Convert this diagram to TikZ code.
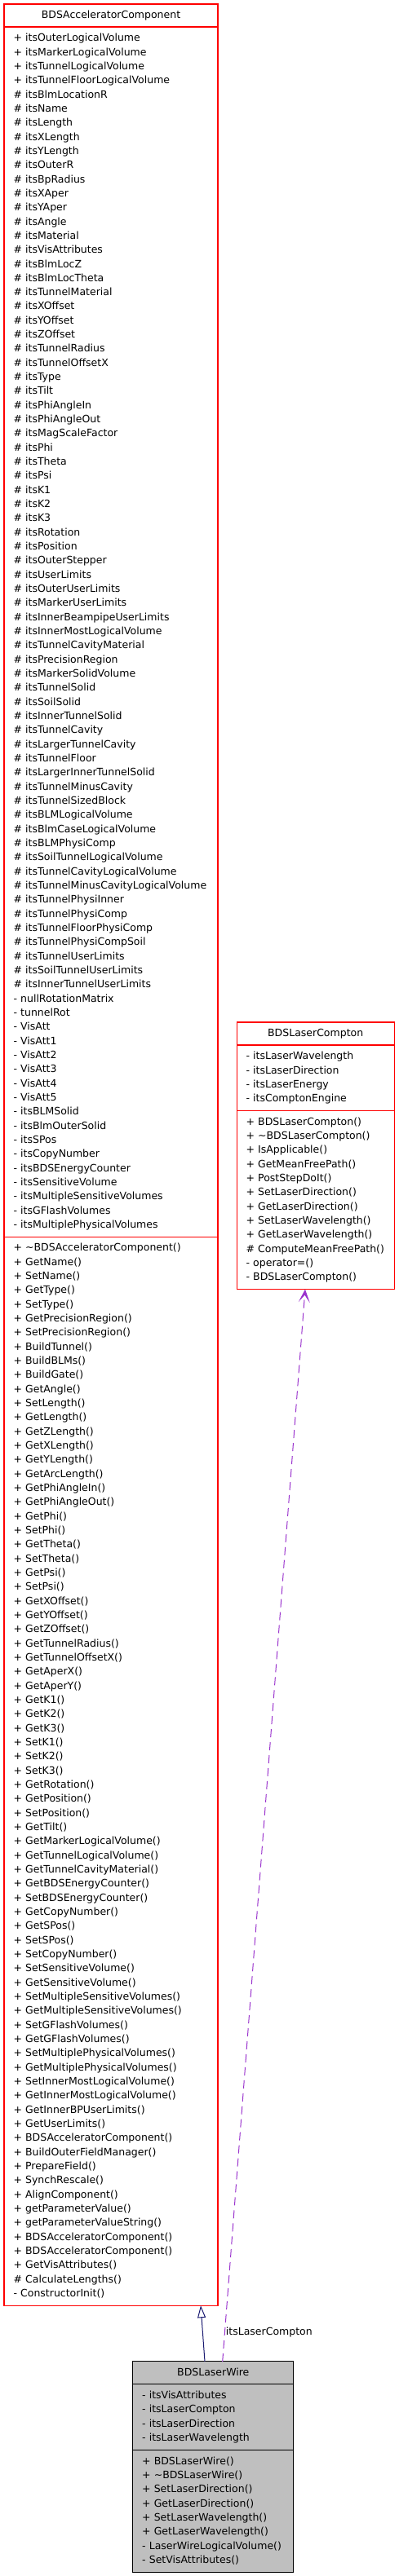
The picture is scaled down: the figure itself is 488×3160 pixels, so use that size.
\documentclass[tikz,border=0pt]{standalone}
\usepackage{fontspec}
\setmainfont{DejaVu Sans}
\usepackage{tikz}
\usetikzlibrary{positioning,arrows.meta}
\definecolor{edgenavy}{HTML}{191970}
\definecolor{edgeorchid}{HTML}{9A32CD}
\definecolor{wiregray}{HTML}{BFBFBF}

\begin{document}
\begin{tikzpicture}[x=1pt,y=1pt,node distance=0pt,
	box/.style={draw=red,line width=1.1pt,fill=white,outer sep=0pt,inner xsep=11.5pt,inner ysep=5.6pt,align=left,
		font=\fontsize{12.5}{17.33}\selectfont,execute at begin node={\hyphenpenalty=10000\exhyphenpenalty=10000\strut},execute at end node=\strut},
	head/.style={box,align=center,inner ysep=0pt,minimum height=28pt},
	gbox/.style={box,draw=black,line width=1pt,fill=wiregray},
	ghead/.style={head,draw=black,line width=1pt,fill=wiregray}]
				\useasboundingbox (0,0) rectangle (488,-3160);
				
				% BDSAcceleratorComponent
				\node[head,text width=239pt] (acc) at (136,-19) {BDSAcceleratorComponent};
				\node[box,text width=239pt] (accAttr) [below=of acc] {+~itsOuterLogicalVolume\\
+~itsMarkerLogicalVolume\\
+~itsTunnelLogicalVolume\\
+~itsTunnelFloorLogicalVolume\\
\#~itsBlmLocationR\\
\#~itsName\\
\#~itsLength\\
\#~itsXLength\\
\#~itsYLength\\
\#~itsOuterR\\
\#~itsBpRadius\\
\#~itsXAper\\
\#~itsYAper\\
\#~itsAngle\\
\#~itsMaterial\\
\#~itsVisAttributes\\
\#~itsBlmLocZ\\
\#~itsBlmLocTheta\\
\#~itsTunnelMaterial\\
\#~itsXOffset\\
\#~itsYOffset\\
\#~itsZOffset\\
\#~itsTunnelRadius\\
\#~itsTunnelOffsetX\\
\#~itsType\\
\#~itsTilt\\
\#~itsPhiAngleIn\\
\#~itsPhiAngleOut\\
\#~itsMagScaleFactor\\
\#~itsPhi\\
\#~itsTheta\\
\#~itsPsi\\
\#~itsK1\\
\#~itsK2\\
\#~itsK3\\
\#~itsRotation\\
\#~itsPosition\\
\#~itsOuterStepper\\
\#~itsUserLimits\\
\#~itsOuterUserLimits\\
\#~itsMarkerUserLimits\\
\#~itsInnerBeampipeUserLimits\\
\#~itsInnerMostLogicalVolume\\
\#~itsTunnelCavityMaterial\\
\#~itsPrecisionRegion\\
\#~itsMarkerSolidVolume\\
\#~itsTunnelSolid\\
\#~itsSoilSolid\\
\#~itsInnerTunnelSolid\\
\#~itsTunnelCavity\\
\#~itsLargerTunnelCavity\\
\#~itsTunnelFloor\\
\#~itsLargerInnerTunnelSolid\\
\#~itsTunnelMinusCavity\\
\#~itsTunnelSizedBlock\\
\#~itsBLMLogicalVolume\\
\#~itsBlmCaseLogicalVolume\\
\#~itsBLMPhysiComp\\
\#~itsSoilTunnelLogicalVolume\\
\#~itsTunnelCavityLogicalVolume\\
\#~itsTunnelMinusCavityLogicalVolume\\
\#~itsTunnelPhysiInner\\
\#~itsTunnelPhysiComp\\
\#~itsTunnelFloorPhysiComp\\
\#~itsTunnelPhysiCompSoil\\
\#~itsTunnelUserLimits\\
\#~itsSoilTunnelUserLimits\\
\#~itsInnerTunnelUserLimits\\
-~nullRotationMatrix\\
-~tunnelRot\\
-~VisAtt\\
-~VisAtt1\\
-~VisAtt2\\
-~VisAtt3\\
-~VisAtt4\\
-~VisAtt5\\
-~itsBLMSolid\\
-~itsBlmOuterSolid\\
-~itsSPos\\
-~itsCopyNumber\\
-~itsBDSEnergyCounter\\
-~itsSensitiveVolume\\
-~itsMultipleSensitiveVolumes\\
-~itsGFlashVolumes\\
-~itsMultiplePhysicalVolumes};
				\node[box,text width=239pt] (accOps) [below=of accAttr] {+~\textasciitilde BDSAcceleratorComponent()\\
+~GetName()\\
+~SetName()\\
+~GetType()\\
+~SetType()\\
+~GetPrecisionRegion()\\
+~SetPrecisionRegion()\\
+~BuildTunnel()\\
+~BuildBLMs()\\
+~BuildGate()\\
+~GetAngle()\\
+~SetLength()\\
+~GetLength()\\
+~GetZLength()\\
+~GetXLength()\\
+~GetYLength()\\
+~GetArcLength()\\
+~GetPhiAngleIn()\\
+~GetPhiAngleOut()\\
+~GetPhi()\\
+~SetPhi()\\
+~GetTheta()\\
+~SetTheta()\\
+~GetPsi()\\
+~SetPsi()\\
+~GetXOffset()\\
+~GetYOffset()\\
+~GetZOffset()\\
+~GetTunnelRadius()\\
+~GetTunnelOffsetX()\\
+~GetAperX()\\
+~GetAperY()\\
+~GetK1()\\
+~GetK2()\\
+~GetK3()\\
+~SetK1()\\
+~SetK2()\\
+~SetK3()\\
+~GetRotation()\\
+~GetPosition()\\
+~SetPosition()\\
+~GetTilt()\\
+~GetMarkerLogicalVolume()\\
+~GetTunnelLogicalVolume()\\
+~GetTunnelCavityMaterial()\\
+~GetBDSEnergyCounter()\\
+~SetBDSEnergyCounter()\\
+~GetCopyNumber()\\
+~GetSPos()\\
+~SetSPos()\\
+~SetCopyNumber()\\
+~SetSensitiveVolume()\\
+~GetSensitiveVolume()\\
+~SetMultipleSensitiveVolumes()\\
+~GetMultipleSensitiveVolumes()\\
+~SetGFlashVolumes()\\
+~GetGFlashVolumes()\\
+~SetMultiplePhysicalVolumes()\\
+~GetMultiplePhysicalVolumes()\\
+~SetInnerMostLogicalVolume()\\
+~GetInnerMostLogicalVolume()\\
+~GetInnerBPUserLimits()\\
+~GetUserLimits()\\
+~BDSAcceleratorComponent()\\
+~BuildOuterFieldManager()\\
+~PrepareField()\\
+~SynchRescale()\\
+~AlignComponent()\\
+~getParameterValue()\\
+~getParameterValueString()\\
+~BDSAcceleratorComponent()\\
+~BDSAcceleratorComponent()\\
+~GetVisAttributes()\\
\#~CalculateLengths()\\
-~ConstructorInit()};
				
				% BDSLaserCompton
				\node[head,text width=170.3pt] (lc) at (386.7,-1268) {BDSLaserCompton};
				\node[box,text width=170.3pt] (lcAttr) [below=of lc] {-~itsLaserWavelength\\
-~itsLaserDirection\\
-~itsLaserEnergy\\
-~itsComptonEngine};
				\node[box,text width=170.3pt] (lcOps) [below=of lcAttr] {+~BDSLaserCompton()\\
+~\textasciitilde BDSLaserCompton()\\
+~IsApplicable()\\
+~GetMeanFreePath()\\
+~PostStepDoIt()\\
+~SetLaserDirection()\\
+~GetLaserDirection()\\
+~SetLaserWavelength()\\
+~GetLaserWavelength()\\
\#~ComputeMeanFreePath()\\
-~operator=()\\
-~BDSLaserCompton()};
				
				% BDSLaserWire
				\node[ghead,text width=174.3pt] (wire) at (261.3,-2910.8) {BDSLaserWire};
				\node[gbox,text width=174.3pt] (wireAttr) [below=of wire] {-~itsVisAttributes\\
-~itsLaserCompton\\
-~itsLaserDirection\\
-~itsLaserWavelength};
				\node[gbox,text width=174.3pt] (wireOps) [below=of wireAttr] {+~BDSLaserWire()\\
+~\textasciitilde BDSLaserWire()\\
+~SetLaserDirection()\\
+~GetLaserDirection()\\
+~SetLaserWavelength()\\
+~GetLaserWavelength()\\
-~LaserWireLogicalVolume()\\
-~SetVisAttributes()};
				
				\draw[edgenavy,line width=1pt,-{Triangle[open,length=15pt,width=10pt]}] ([xshift=-10.3pt]wire.north) -- ([xshift=110pt]accOps.south);
				\draw[edgeorchid,line width=1pt,dash pattern=on 10pt off 6pt,-{Stealth[length=16pt,width=14pt,inset=9pt]}] ([xshift=11.4pt]wire.north) -- ([xshift=-12.7pt]lcOps.south)
					node[pos=0.027,anchor=west,inner sep=1pt,text=black,font=\fontsize{12.5}{15}\selectfont] {itsLaserCompton};
			\end{tikzpicture}
\end{document}
